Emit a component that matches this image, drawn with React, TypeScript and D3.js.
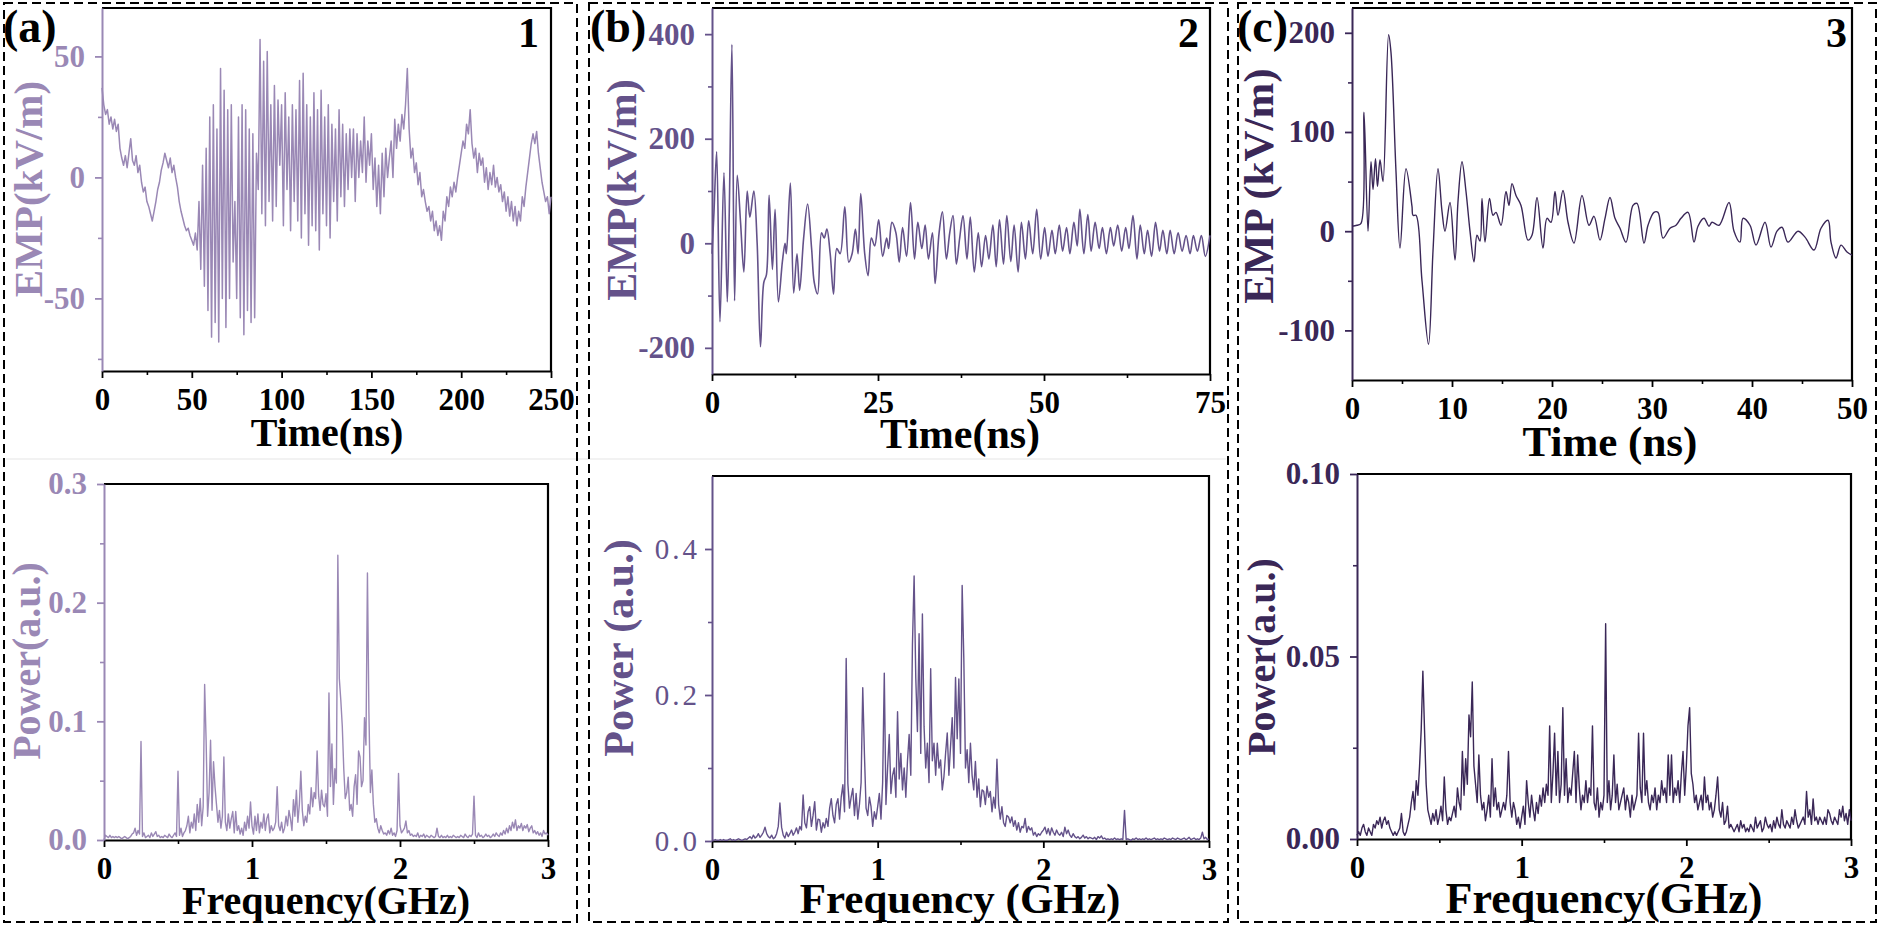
import React, { useEffect, useRef } from "react";
import * as d3 from "d3";

const FONT = "'Liberation Serif', 'Times New Roman', serif";

// ---- (a) EMP waveform, one sample per ns (0..250 ns), kV/m ----
const pulseAStep = 1;
const pulseA = [
  37, 30, 26, 28, 22, 25, 20, 24, 19, 22,
  12, 8, 5, 9, 4, 10, 16, 7, 5, 9,
  2, 5, -2, -6, -4, -10, -12, -15, -18, -14,
  -10, -5, -2, 3, 6, 10, 7, 4, 8, 2,
  5, 0, -4, -10, -14, -17, -20, -22, -21, -24,
  -26, -28, -23, -30, -10, -38, 5, -45, 12, -55,
  25, -66, 30, -60, 20, -68, 45, -50, 36, -62,
  28, -50, 30, -35, -10, -50, 25, -58, 30, -65,
  28, -55, 20, -60, 18, -58, 10, -5, 57, -15,
  48, -20, 52, -10, 30, -18, 38, -12, 32, 5,
  30, -20, 35, -5, 25, -22, 30, -10, 28, -18,
  40, -25, 43, -15, 30, -28, 25, -20, 35, -22,
  28, -30, 36, -15, 25, -20, 30, -25, 22, -10,
  20, -18, 28, -8, 22, -12, 18, -5, 20, 0,
  20, -10, 18, 0, 15, 2, 25, -2, 15, 5,
  18, -5, 8, -12, 5, -15, 10, -8, 12, 0,
  8, 15, 0, 24, 12, 22, 15, 26, 20, 30,
  45, 20, 8, 12, 2, 6, -3, 2, -8, -5,
  -10, -14, -12, -18, -14, -22, -18, -24, -20, -26,
  -14, -18, -8, -12, -4, -8, -2, -6, 0, 5,
  10, 15, 12, 22, 18, 28, 14, 8, 12, 2,
  10, 5, 8, -2, 4, -5, 2, -3, 5, -4,
  0, -6, -3, -10, -6, -14, -8, -16, -10, -18,
  -12, -20, -14, -18, -8, -12, -4, 2, 8, 14,
  18, 14, 19, 10, 4, -2, -6, -10, -8, -15,
  -8,
];

// ---- spectra, one sample per 0.01 GHz (0..3 GHz), a.u. ----
const specStep = 0.01;
const specA = [
  0, .004, .003, .002, .004, .002, .003, .002, .003, .002,
  .003, .002, .001, .002, .003, .002, .001, .002, .003, .005,
  .006, .010, .004, .008, .005, .083, .003, .006, .002, .003,
  .004, .002, .006, .003, .005, .007, .003, .004, .002, .003,
  .002, .004, .003, .002, .005, .003, .002, .004, .006, .003,
  .058, .004, .010, .003, .006, .008, .012, .020, .006, .015,
  .010, .022, .008, .030, .015, .035, .012, .028, .131, .084,
  .020, .040, .084, .025, .066, .045, .030, .015, .025, .010,
  .020, .070, .015, .008, .022, .010, .018, .024, .006, .024,
  .008, .012, .005, .010, .004, .015, .008, .020, .010, .032,
  .012, .005, .020, .008, .022, .006, .015, .010, .022, .008,
  .018, .022, .006, .012, .008, .010, .015, .045, .012, .008,
  .015, .006, .010, .020, .012, .025, .018, .008, .034, .020,
  .042, .015, .030, .058, .025, .012, .020, .015, .030, .022,
  .044, .028, .040, .035, .075, .038, .025, .042, .030, .028,
  .039, .020, .124, .045, .081, .030, .060, .048, .240, .136,
  .118, .096, .060, .035, .040, .053, .025, .030, .020, .045,
  .055, .030, .075, .070, .045, .050, .103, .080, .225, .107,
  .040, .059, .030, .015, .018, .010, .006, .012, .008, .005,
  .006, .004, .008, .005, .010, .004, .006, .003, .008, .056,
  .012, .006, .008, .010, .016, .006, .008, .004, .005, .003,
  .004, .003, .006, .002, .004, .003, .005, .002, .004, .003,
  .002, .004, .003, .002, .003, .010, .003, .002, .004, .002,
  .003, .002, .004, .002, .003, .002, .004, .003, .002, .003,
  .002, .004, .003, .002, .005, .003, .002, .004, .003, .005,
  .037, .004, .002, .006, .003, .004, .002, .003, .005, .003,
  .004, .002, .003, .005, .003, .006, .004, .003, .006, .004,
  .008, .005, .010, .006, .012, .008, .015, .010, .017, .008,
  .012, .010, .014, .008, .012, .010, .013, .007, .010, .012,
  .006, .008, .005, .007, .004, .006, .003, .008, .005, .006,
  .004,
];

// ---- (b) EMP waveform, [ns, kV/m] ----
const pulseB: [number, number][] = [
  [0, -20], [0.3, 60], [0.7, 175], [1.2, -150], [1.8, 135], [2.3, -112], [2.6, 60], [3.0, 380], [3.4, -110], [3.8, 130],
  [4.3, 40], [4.8, -55], [5.3, 100], [5.7, 50], [6.3, 100], [6.8, 0], [7.3, -198], [7.8, -75], [8.2, -60], [8.6, 92],
  [9.1, -50], [9.5, 65], [10.0, -112], [10.6, -35], [11.0, 0], [11.2, -20], [11.8, 115], [12.3, -95], [12.8, -20], [13.2, -90],
  [13.8, 10], [14.4, 75], [15.0, -10], [15.4, -75], [15.9, -97], [16.5, 20], [16.9, 10], [17.3, 27], [17.8, -20], [18.3, -97],
  [18.8, -10], [19.3, -20], [20.0, 70], [20.6, -36], [21.1, -20], [21.6, 27], [22.0, -20], [22.4, 95], [23.0, -20], [23.5, -62],
  [24.0, 10], [24.5, -5], [25.1, 45], [25.7, -25], [26.3, 10], [26.6, -10], [27.1, 40], [27.7, 20], [28.2, -36], [28.7, 30],
  [29.3, -25], [29.9, 78], [30.5, -30], [31.0, 40], [31.6, -10], [32.1, 35], [32.6, -30], [33.2, 20], [33.6, -77], [34.2, 20],
  [34.7, 60], [35.3, -30], [35.8, 20], [36.3, 53], [36.8, -40], [37.3, 10], [37.8, 53], [38.4, -30], [38.9, 50], [39.5, -55],
  [40.1, 20], [40.6, -45], [41.2, 15], [41.7, -30], [42.3, 35], [42.8, -45], [43.3, 45], [43.9, -40], [44.4, 53], [45.0, -35],
  [45.5, 35], [46.1, -55], [46.6, 40], [47.2, -30], [47.7, 43], [48.3, -20], [48.9, 65], [49.5, -30], [50.1, 30], [50.6, -25],
  [51.2, 25], [51.7, -20], [52.3, 35], [52.8, -15], [53.4, 30], [53.9, -20], [54.5, 40], [55.0, -5], [55.4, 65], [56.0, -20],
  [56.6, 55], [57.1, -15], [57.7, 40], [58.3, -10], [58.8, 30], [59.4, -20], [60.0, 30], [60.5, -5], [61.1, 35], [61.7, -15],
  [62.3, 30], [62.8, -10], [63.4, 53], [64.0, -30], [64.5, 35], [65.1, -20], [65.6, 25], [66.2, -25], [66.8, 40], [67.4, -15],
  [67.9, 25], [68.5, -20], [69.0, 25], [69.6, -20], [70.2, 20], [70.8, -15], [71.4, 15], [72.0, -20], [72.5, 15], [73.1, -15],
  [73.7, 15], [74.3, -25], [75.0, 15],
];

const specB = [
  .001, .001, .002, .001, .001, .002, .001, .002, .001, .001,
  .002, .003, .001, .002, .001, .002, .003, .002, .001, .002,
  .003, .002, .004, .006, .003, .008, .004, .006, .010, .005,
  .008, .012, .019, .010, .006, .004, .008, .003, .005, .010,
  .020, .052, .019, .008, .004, .012, .006, .010, .015, .008,
  .012, .018, .010, .020, .015, .063, .025, .018, .040, .047,
  .020, .035, .054, .015, .030, .029, .012, .025, .018, .031,
  .020, .045, .058, .035, .025, .050, .058, .030, .060, .077,
  .040, .250, .079, .045, .060, .072, .035, .065, .030, .050,
  .080, .210, .120, .045, .035, .060, .047, .020, .040, .030,
  .047, .065, .030, .080, .230, .050, .100, .146, .065, .090,
  .100, .060, .177, .085, .120, .070, .100, .060, .110, .146,
  .090, .270, .363, .224, .150, .284, .120, .311, .157, .100,
  .134, .080, .236, .110, .134, .090, .134, .100, .111, .070,
  .088, .120, .148, .090, .130, .169, .100, .224, .140, .222,
  .120, .350, .250, .100, .125, .080, .134, .090, .070, .109,
  .060, .085, .047, .070, .068, .050, .075, .060, .068, .040,
  .060, .045, .112, .050, .030, .047, .025, .020, .035, .033,
  .025, .033, .020, .028, .015, .025, .012, .020, .018, .031,
  .012, .020, .015, .018, .008, .012, .006, .010, .008, .012,
  .015, .019, .010, .017, .008, .018, .012, .008, .015, .010,
  .008, .012, .006, .019, .010, .015, .008, .005, .010, .006,
  .004, .006, .003, .005, .008, .004, .006, .003, .005, .004,
  .003, .005, .002, .006, .004, .007, .003, .004, .002, .003,
  .002, .003, .002, .004, .002, .003, .002, .003, .002, .042,
  .002, .003, .002, .001, .003, .002, .004, .002, .003, .002,
  .003, .002, .004, .002, .003, .002, .003, .004, .002, .003,
  .002, .003, .002, .004, .003, .002, .003, .002, .004, .003,
  .002, .004, .003, .002, .003, .004, .002, .003, .005, .002,
  .003, .004, .002, .003, .002, .004, .012, .003, .005, .002,
  .003,
];

// ---- (c) EMP waveform, [ns, kV/m] ----
const pulseC: [number, number][] = [
  [0, 5], [0.5, 6], [0.9, 8], [1.2, 120], [1.6, 0], [1.9, 70], [2.1, 42], [2.35, 73], [2.55, 45], [2.8, 72],
  [3.1, 50], [3.66, 198], [3.9, 180], [4.4, 60], [4.8, -17], [5.4, 63], [6.0, 25], [6.1, 16], [6.4, 16], [7.0, -50],
  [7.65, -114], [8.1, -20], [8.6, 63], [9.0, 20], [9.3, 0], [9.8, 29], [10.3, -29], [10.6, 30], [11.0, 70], [11.4, 40],
  [11.8, 0], [12.2, -31], [12.5, -4], [12.8, -10], [13.0, 33], [13.3, -11], [13.75, 33], [14.1, 16], [14.4, 19], [14.9, 6],
  [15.4, 40], [15.7, 26], [16.0, 48], [16.4, 36], [16.9, 26], [17.6, -9], [18.0, -4], [18.5, 34], [19.1, -17], [19.5, 13],
  [19.9, 9], [20.3, 40], [20.6, 16], [21.1, 41], [21.6, 9], [22.2, -12], [23.0, 36], [23.7, 6], [24.2, 15], [24.8, -9],
  [25.3, 13], [25.8, 34], [26.3, 13], [26.8, 3], [27.4, -11], [28.1, 26], [28.5, 28], [29.2, -12], [29.6, 6], [30.2, 19],
  [30.6, 19], [31.1, -7], [31.8, 3], [32.4, 6], [32.9, 13], [33.6, 19], [34.2, -11], [34.6, 5], [35.2, 13], [35.7, 5],
  [36.0, 9], [36.7, 6], [37.7, 29], [38.2, 0], [38.8, -11], [39.1, 13], [39.8, 6], [40.4, -14], [41.3, 9], [41.9, -16],
  [42.5, 0], [43.0, 4], [43.6, -11], [44.6, 0], [45.3, -6], [46.2, -19], [46.9, 3], [47.6, 11], [47.9, -11], [48.4, -27],
  [48.9, -14], [49.5, -21], [50.0, -24],
];

const specC = [
  .001, .002, .001, .003, .004, .002, .001, .003, .002, .001,
  .004, .003, .005, .004, .006, .003, .005, .006, .004, .005,
  .003, .002, .001, .002, .001, .002, .003, .007, .002, .001,
  .002, .004, .006, .010, .013, .008, .016, .012, .020, .030,
  .046, .030, .015, .008, .006, .004, .007, .005, .008, .004,
  .006, .009, .005, .017, .008, .004, .006, .005, .007, .009,
  .006, .014, .010, .008, .024, .012, .022, .015, .034, .028,
  .043, .020, .015, .010, .023, .012, .008, .010, .005, .008,
  .012, .006, .022, .009, .014, .008, .010, .006, .008, .010,
  .008, .012, .024, .010, .006, .010, .008, .004, .006, .003,
  .006, .009, .004, .016, .010, .006, .012, .008, .005, .010,
  .007, .012, .009, .014, .010, .015, .012, .031, .010, .018,
  .029, .012, .024, .010, .015, .036, .012, .022, .010, .014,
  .012, .018, .024, .010, .023, .014, .008, .012, .010, .016,
  .010, .014, .012, .031, .010, .008, .014, .006, .010, .008,
  .012, .059, .010, .016, .008, .012, .023, .010, .015, .008,
  .010, .012, .014, .008, .012, .010, .006, .012, .008, .010,
  .012, .029, .014, .010, .029, .012, .016, .010, .008, .012,
  .010, .014, .008, .012, .010, .016, .012, .014, .010, .023,
  .012, .023, .010, .014, .012, .016, .010, .018, .024, .012,
  .020, .031, .036, .018, .015, .010, .012, .008, .010, .012,
  .008, .017, .010, .012, .008, .010, .006, .008, .012, .017,
  .008, .006, .010, .004, .005, .009, .003, .004, .003, .002,
  .003, .004, .002, .005, .003, .004, .002, .003, .002, .004,
  .003, .002, .006, .003, .004, .005, .002, .003, .006, .004,
  .003, .004, .002, .005, .003, .006, .004, .003, .008, .004,
  .003, .005, .004, .003, .006, .004, .008, .005, .003, .004,
  .005, .006, .004, .013, .006, .008, .004, .011, .005, .006,
  .004, .006, .005, .004, .006, .004, .008, .007, .005, .004,
  .006, .005, .004, .008, .006, .009, .005, .007, .004, .008,
  .005,
];

// ---- ticks ----
const timeTicksA = [0, 50, 100, 150, 200, 250];
const timeMinorA = [25, 75, 125, 175, 225];
const empTicksA = [-50, 0, 50];
const empMinorA = [-75, -25, 25];
const timeTicksB = [0, 25, 50, 75];
const timeMinorB = [12.5, 37.5, 62.5];
const empTicksB = [-200, 0, 200, 400];
const empMinorB = [-100, 100, 300];
const timeTicksC = [0, 10, 20, 30, 40, 50];
const timeMinorC = [5, 15, 25, 35, 45];
const empTicksC = [-100, 0, 100, 200];
const empMinorC = [-50, 50, 150];
const freqTicks = [0, 1, 2, 3];
const freqMinor = [0.5, 1.5, 2.5];
const powTicksA = [0, 0.1, 0.2, 0.3];
const powMinorA = [0.05, 0.15, 0.25];
const powTicksB = [0, 0.2, 0.4];
const powMinorB = [0.1, 0.3];
const powTicksC = [0, 0.05, 0.1];
const powMinorC = [0.025, 0.075];

const colA = "#9a88b5";
const colB = "#64528a";
const colC = "#3a2757";

type Plot = {
  left: number; right: number; top: number; bottom: number;
  xDomain: [number, number]; yDomain: [number, number];
  xTicks: number[]; xMinor: number[]; yTicks: number[]; yMinor: number[];
  yFormat: (d: number) => string;
  points: [number, number][];
  curve: d3.CurveFactory;
  color: string; width: number;
  xTitle: string; xtx: number; xty: number; xts: number;
  yTitle: string; ytx: number; yty: number; yts: number;
  plainY?: boolean;
};

const toPoints = (vals: number[], step: number): [number, number][] =>
  vals.map((v, i) => [i * step, v]);

const plots: Plot[] = [
  {
    left: 102, right: 551, top: 8, bottom: 371, xDomain: [0, 250], yDomain: [-80, 70],
    xTicks: timeTicksA, xMinor: timeMinorA, yTicks: empTicksA, yMinor: empMinorA,
    yFormat: d => String(d), points: toPoints(pulseA, pulseAStep), curve: d3.curveLinear,
    color: colA, width: 1.5,
    xTitle: "Time(ns)", xtx: 327, xty: 446, xts: 40,
    yTitle: "EMP(kV/m)", ytx: 42, yty: 189, yts: 41,
  },
  {
    left: 104, right: 548, top: 484, bottom: 840, xDomain: [0, 3], yDomain: [0, 0.3],
    xTicks: freqTicks, xMinor: freqMinor, yTicks: powTicksA, yMinor: powMinorA,
    yFormat: d => d3.format(".1f")(d), points: toPoints(specA, specStep), curve: d3.curveLinear,
    color: colA, width: 1.4,
    xTitle: "Frequency(GHz)", xtx: 326, xty: 914, xts: 40,
    yTitle: "Power(a.u.)", ytx: 40, yty: 661, yts: 40,
  },
  {
    left: 712, right: 1210, top: 8, bottom: 374, xDomain: [0, 75], yDomain: [-250, 450],
    xTicks: timeTicksB, xMinor: timeMinorB, yTicks: empTicksB, yMinor: empMinorB,
    yFormat: d => String(d), points: pulseB, curve: d3.curveCatmullRom.alpha(0.5),
    color: colB, width: 1.6,
    xTitle: "Time(ns)", xtx: 960, xty: 448, xts: 42,
    yTitle: "EMP(kV/m)", ytx: 636, yty: 190, yts: 42,
  },
  {
    left: 712, right: 1209, top: 476, bottom: 841, xDomain: [0, 3], yDomain: [0, 0.5],
    xTicks: freqTicks, xMinor: freqMinor, yTicks: powTicksB, yMinor: powMinorB,
    yFormat: d => d3.format(".1f")(d), points: toPoints(specB, specStep), curve: d3.curveLinear,
    color: colB, width: 1.4,
    xTitle: "Frequency (GHz)", xtx: 960, xty: 913, xts: 43,
    yTitle: "Power (a.u.)", ytx: 633, yty: 648, yts: 42, plainY: true,
  },
  {
    left: 1352, right: 1852, top: 8, bottom: 380, xDomain: [0, 50], yDomain: [-150, 225],
    xTicks: timeTicksC, xMinor: timeMinorC, yTicks: empTicksC, yMinor: empMinorC,
    yFormat: d => String(d), points: pulseC, curve: d3.curveCatmullRom.alpha(0.5),
    color: colC, width: 1.4,
    xTitle: "Time (ns)", xtx: 1610, xty: 456, xts: 43,
    yTitle: "EMP (kV/m)", ytx: 1273, yty: 186, yts: 43,
  },
  {
    left: 1357, right: 1851, top: 474, bottom: 839, xDomain: [0, 3], yDomain: [0, 0.1],
    xTicks: freqTicks, xMinor: freqMinor, yTicks: powTicksC, yMinor: powMinorC,
    yFormat: d => d3.format(".2f")(d), points: toPoints(specC, specStep), curve: d3.curveLinear,
    color: colC, width: 1.4,
    xTitle: "Frequency(GHz)", xtx: 1604, xty: 913, xts: 44,
    yTitle: "Power(a.u.)", ytx: 1275, yty: 657, yts: 40,
  },
];

const panels = [
  { label: "(a)", num: "1", x0: 4, x1: 577, lx: 3, nx: 539 },
  { label: "(b)", num: "2", x0: 589, x1: 1228, lx: 590, nx: 1199 },
  { label: "(c)", num: "3", x0: 1238, x1: 1876, lx: 1237, nx: 1847 },
];

function drawPlot(root: d3.Selection<SVGSVGElement, unknown, null, undefined>, p: Plot) {
  const x = d3.scaleLinear().domain(p.xDomain).range([p.left, p.right]);
  const y = d3.scaleLinear().domain(p.yDomain).range([p.bottom, p.top]);
  const g = root.append("g");

  // black top + right frame
  g.append("path")
    .attr("d", `M${p.left},${p.top}H${p.right}V${p.bottom}`)
    .attr("fill", "none")
    .attr("stroke", "#000")
    .attr("stroke-width", 2.2);

  // minor ticks (no labels)
  g.append("g")
    .attr("transform", `translate(0,${p.bottom})`)
    .attr("color", "#000")
    .call(d3.axisBottom(x).tickValues(p.xMinor).tickSize(4).tickSizeOuter(0))
    .call(s => s.select(".domain").remove())
    .call(s => s.selectAll("text").remove())
    .call(s => s.selectAll("line").attr("stroke-width", 1.6));
  g.append("g")
    .attr("transform", `translate(${p.left},0)`)
    .attr("color", p.color)
    .call(d3.axisLeft(y).tickValues(p.yMinor).tickSize(4).tickSizeOuter(0))
    .call(s => s.select(".domain").remove())
    .call(s => s.selectAll("text").remove())
    .call(s => s.selectAll("line").attr("stroke-width", 1.6));

  // === X AXIS ===
  g.append("g")
    .attr("transform", `translate(0,${p.bottom})`)
    .attr("color", "#000")
    .call(d3.axisBottom(x).tickValues(p.xTicks).tickSize(7).tickSizeOuter(0).tickPadding(10).tickFormat(d => String(d)))
    .call(s => s.select(".domain").attr("stroke-width", 2.2))
    .call(s => s.selectAll("line").attr("stroke-width", 1.8))
    .call(s =>
      s.selectAll("text")
        .attr("font-family", FONT)
        .attr("font-weight", "bold")
        .attr("font-size", 31)
    );

  // === Y AXIS ===
  g.append("g")
    .attr("transform", `translate(${p.left},0)`)
    .attr("color", p.color)
    .call(
      d3.axisLeft(y)
        .tickValues(p.yTicks)
        .tickSize(7)
        .tickSizeOuter(0)
        .tickPadding(p.plainY ? 5 : 10)
        .tickFormat(d => p.yFormat(d as number))
    )
    .call(s => s.select(".domain").attr("stroke-width", 2))
    .call(s => s.selectAll("line").attr("stroke-width", 1.8))
    .call(s =>
      s.selectAll("text")
        .attr("font-family", FONT)
        .attr("font-weight", p.plainY ? "normal" : "bold")
        .attr("font-size", p.plainY ? 29 : 31)
        .attr("letter-spacing", p.plainY ? 3 : 0)
    );

  // trace
  const line = d3.line<[number, number]>()
    .x(d => x(d[0]))
    .y(d => y(d[1]))
    .curve(p.curve);
  g.append("path")
    .datum(p.points)
    .attr("d", line)
    .attr("fill", "none")
    .attr("stroke", p.color)
    .attr("stroke-width", p.width)
    .attr("stroke-linejoin", "round");

  // titles
  g.append("text")
    .attr("x", p.xtx)
    .attr("y", p.xty)
    .attr("text-anchor", "middle")
    .attr("font-family", FONT)
    .attr("font-weight", "bold")
    .attr("font-size", p.xts)
    .attr("fill", "#000")
    .text(p.xTitle);
  g.append("text")
    .attr("x", p.ytx)
    .attr("y", p.yty)
    .attr("transform", `rotate(-90,${p.ytx},${p.yty})`)
    .attr("text-anchor", "middle")
    .attr("font-family", FONT)
    .attr("font-weight", "bold")
    .attr("font-size", p.yts)
    .attr("fill", p.color)
    .text(p.yTitle);
}

const App = () => {
  const ref = useRef<SVGSVGElement>(null);

  useEffect(() => {
    const svg = d3.select(ref.current as SVGSVGElement);
    svg.selectAll("*").remove();

    svg.append("rect").attr("width", 1879).attr("height", 926).attr("fill", "#fff");

    // faint seam between the top and bottom rows
    svg.append("line")
      .attr("x1", 6).attr("x2", 1226).attr("y1", 459).attr("y2", 459)
      .attr("stroke", "#eeeeee").attr("stroke-width", 1.5);

    plots.forEach(p => drawPlot(svg, p));

    // dashed panel frames and labels
    panels.forEach(pn => {
      svg.append("rect")
        .attr("x", pn.x0)
        .attr("y", 3)
        .attr("width", pn.x1 - pn.x0)
        .attr("height", 919)
        .attr("fill", "none")
        .attr("stroke", "#000")
        .attr("stroke-width", 2)
        .attr("stroke-dasharray", "9,5");
      svg.append("text")
        .attr("x", pn.lx)
        .attr("y", 42)
        .attr("font-family", FONT)
        .attr("font-weight", "bold")
        .attr("font-size", 46)
        .attr("fill", "#000")
        .text(pn.label);
      svg.append("text")
        .attr("x", pn.nx)
        .attr("y", 47)
        .attr("text-anchor", "end")
        .attr("font-family", FONT)
        .attr("font-weight", "bold")
        .attr("font-size", 42)
        .attr("fill", "#000")
        .text(pn.num);
    });
  }, []);

  return (
    <svg
      ref={ref}
      width={1879}
      height={926}
      style={{ position: "absolute", left: 0, top: 0, display: "block" }}
    />
  );
};

export default App;
